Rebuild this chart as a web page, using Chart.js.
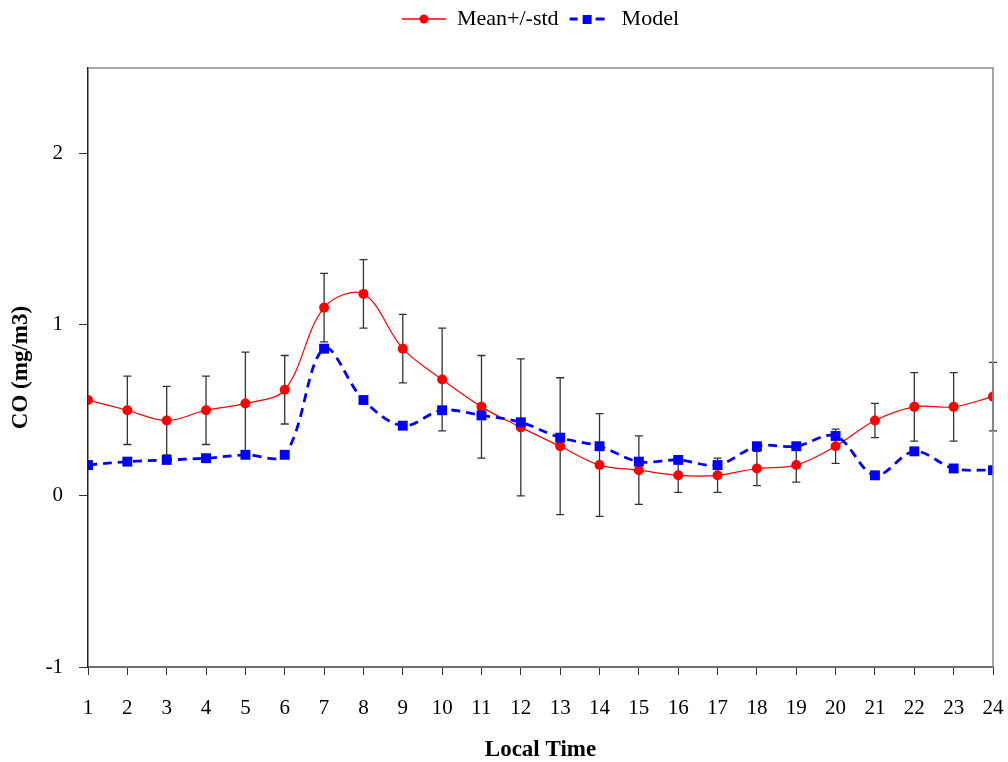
<!DOCTYPE html>
<html>
<head>
<meta charset="utf-8">
<script src="https://cdn.jsdelivr.net/npm/chart.js@4/dist/chart.umd.min.js"></script>
<style>
    html, body { margin: 0; padding: 0; background: #fff; }
    #wrap { width: 1008px; height: 762px; position: relative; }
</style>
</head>
<body>
<div id="wrap"><canvas id="coChart"></canvas></div>
<script>
const hours = [1, 2, 3, 4, 5, 6, 7, 8, 9, 10, 11, 12, 13, 14, 15, 16, 17, 18, 19, 20, 21, 22, 23, 24];
const meanCO = [0.56, 0.50, 0.44, 0.50, 0.54, 0.62, 1.10, 1.18, 0.86, 0.68, 0.52, 0.40,
                0.29, 0.18, 0.15, 0.12, 0.12, 0.16, 0.18, 0.29, 0.44, 0.52, 0.52, 0.58];
const stdCO = [null, 0.2, 0.2, 0.2, 0.3, 0.2, 0.2, 0.2, 0.2, 0.3, 0.3, 0.4,
               0.4, 0.3, 0.2, 0.1, 0.1, 0.1, 0.1, 0.1, 0.1, 0.2, 0.2, 0.2];
const modelCO = [0.18, 0.20, 0.21, 0.22, 0.24, 0.24, 0.86, 0.56, 0.41, 0.50, 0.47, 0.43,
                 0.34, 0.29, 0.20, 0.21, 0.18, 0.29, 0.29, 0.35, 0.12, 0.26, 0.16, 0.15];
const yTicks = [-1, 0, 1, 2];

const serif = "'Liberation Serif', 'Times New Roman', serif";

// little line+marker icons for the legend
function legendIcon(kind) {
    const c = document.createElement('canvas');
    c.width = 44;
    c.height = 14;
    const g = c.getContext('2d');
    if (kind === 'mean') {
        g.strokeStyle = '#ff0000';
        g.lineWidth = 1.5;
        g.beginPath();
        g.moveTo(0, 7);
        g.lineTo(44, 7);
        g.stroke();
        g.fillStyle = '#ff0000';
        g.beginPath();
        g.arc(22, 7, 4.5, 0, Math.PI * 2);
        g.fill();
    } else {
        g.strokeStyle = '#0000ff';
        g.lineWidth = 3;
        g.beginPath();
        g.moveTo(3, 7);
        g.lineTo(11, 7);
        g.moveTo(29, 7);
        g.lineTo(38, 7);
        g.stroke();
        g.fillStyle = '#0000ff';
        g.fillRect(16, 3, 9, 9);
    }
    return c;
}

// std error bars under the mean series
const errorBars = {
    id: 'errorBars',
    beforeDatasetsDraw(chart) {
        const ctx = chart.ctx;
        const x = chart.scales.x;
        const y = chart.scales.y;
        ctx.save();
        ctx.strokeStyle = '#333';
        ctx.lineWidth = 1.3;
        hours.forEach((h, i) => {
            if (stdCO[i] == null) return;
            const px = x.getPixelForValue(h);
            const top = y.getPixelForValue(meanCO[i] + stdCO[i]);
            const bot = y.getPixelForValue(meanCO[i] - stdCO[i]);
            ctx.beginPath();
            ctx.moveTo(px, top);
            ctx.lineTo(px, bot);
            ctx.moveTo(px - 4, top);
            ctx.lineTo(px + 4, top);
            ctx.moveTo(px - 4, bot);
            ctx.lineTo(px + 4, bot);
            ctx.stroke();
        });
        ctx.restore();
    }
};

// gray frame on the top and right of the plot
const plotFrame = {
    id: 'plotFrame',
    afterDraw(chart) {
        const a = chart.chartArea;
        const ctx = chart.ctx;
        ctx.save();
        ctx.strokeStyle = '#8c8c8c';
        ctx.lineWidth = 1.5;
        ctx.beginPath();
        ctx.moveTo(a.left, a.top);
        ctx.lineTo(a.right, a.top);
        ctx.lineTo(a.right, a.bottom);
        ctx.stroke();
        ctx.restore();
    }
};

const ctx = document.getElementById('coChart').getContext('2d');

const data = {
    datasets: [
        {
            label: 'Mean+/-std',
            data: hours.map((h, i) => ({ x: h, y: meanCO[i] })),
            borderColor: '#ff0000',
            backgroundColor: '#ff0000',
            borderWidth: 1.2,
            pointStyle: 'circle',
            pointRadius: 5,
            pointBorderWidth: 0,
            tension: 0.35,
            order: 1
        },
        {
            label: 'Model',
            data: hours.map((h, i) => ({ x: h, y: modelCO[i] })),
            borderColor: '#0000ff',
            backgroundColor: '#0000ff',
            borderWidth: 2.8,
            borderDash: [9, 6],
            pointStyle: 'rect',
            pointRadius: 7,
            pointBorderWidth: 0,
            tension: 0.35,
            order: 0
        }
    ]
};

const options = {
    responsive: true,
    maintainAspectRatio: false,
    animation: false,
    layout: { padding: { top: 0, right: 15, bottom: 0, left: 0 } },
    plugins: {
        tooltip: { enabled: false },
        legend: {
            position: 'top',
            fullSize: false,
            labels: {
                usePointStyle: true,
                pointStyleWidth: 44,
                padding: 8,
                color: '#000',
                font: { family: serif, size: 22 },
                generateLabels: () => [
                    { text: 'Mean+/-std', pointStyle: legendIcon('mean'), datasetIndex: 0, lineWidth: 0, fontColor: '#000' },
                    { text: 'Model', pointStyle: legendIcon('model'), datasetIndex: 1, lineWidth: 0, fontColor: '#000' }
                ]
            }
        }
    },
    scales: {
        x: {
            type: 'linear',
            min: 1,
            max: 24,
            afterFit: s => { s.height = 95; s.paddingLeft = 0; s.paddingRight = 0; },
            afterBuildTicks: s => { s.ticks = hours.map(v => ({ value: v })); },
            grid: { drawOnChartArea: false, drawTicks: true, tickLength: 8, color: '#333', lineWidth: 1 },
            border: { color: '#707070', width: 2 },
            ticks: { color: '#000', padding: 21, maxRotation: 0, autoSkip: false, font: { family: serif, size: 21 } },
            title: {
                display: true,
                text: 'Local Time',
                color: '#000',
                padding: { top: 0, bottom: 0 },
                font: { family: serif, size: 23, weight: 'bold', lineHeight: 1 }
            }
        },
        topGap: {
            type: 'linear',
            position: 'top',
            display: true,
            afterFit: s => { s.height = 28; s.paddingLeft = 0; s.paddingRight = 0; },
            grid: { display: false },
            border: { display: false },
            ticks: { display: false }
        },
        y: {
            min: -1,
            max: 2.5,
            afterFit: s => { s.width = 88; s.paddingTop = 0; s.paddingBottom = 0; },
            afterBuildTicks: s => { s.ticks = yTicks.map(v => ({ value: v })); },
            grid: { drawOnChartArea: false, drawTicks: true, tickLength: 9, color: '#333', lineWidth: 1 },
            border: { color: '#222', width: 1.5 },
            ticks: { color: '#000', padding: 16, font: { family: serif, size: 21 } },
            title: {
                display: true,
                text: 'CO (mg/m3)',
                color: '#000',
                padding: { top: 10, bottom: 0 },
                font: { family: serif, size: 23, weight: 'bold', lineHeight: 1 }
            }
        }
    }
};

const config = {
    type: 'line',
    data: data,
    options: options,
    plugins: [errorBars, plotFrame]
};

const coChart = new Chart(ctx, config);
</script>
</body>
</html>
